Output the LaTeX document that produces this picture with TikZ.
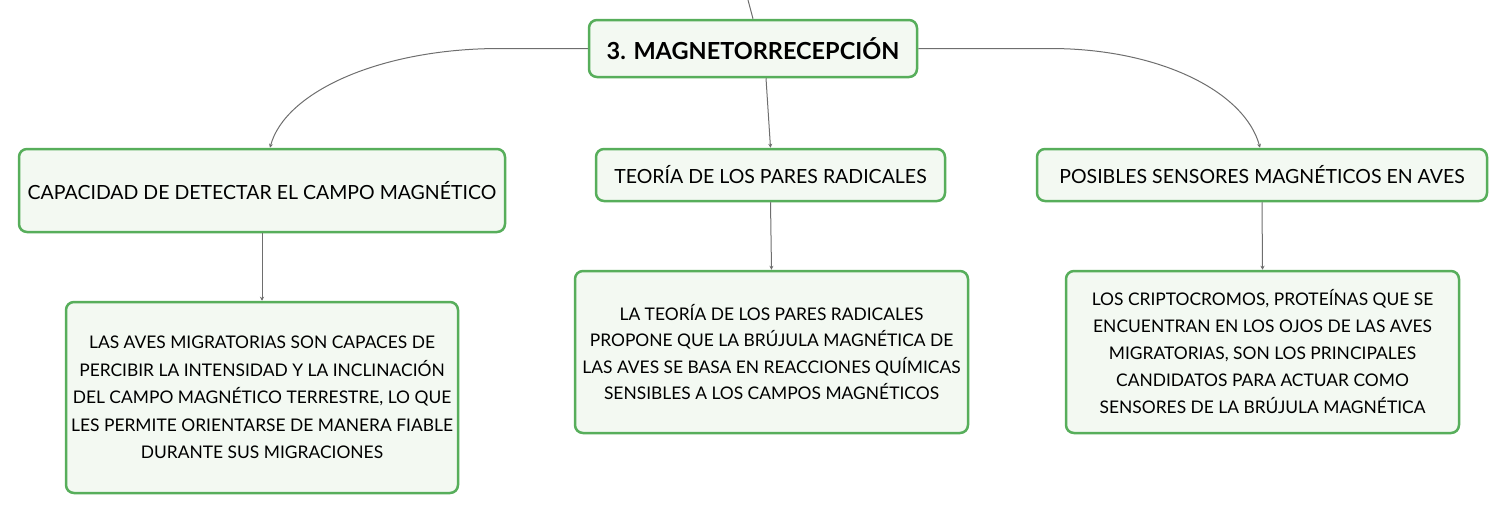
\documentclass[tikz,border=0pt]{standalone}
\usepackage{fontspec}
\setmainfont{Lato}
\usetikzlibrary{arrows.meta}
\definecolor{boxgreen}{HTML}{57AE5B}
\definecolor{boxfill}{HTML}{F3F9F2}
\definecolor{linegray}{HTML}{6E6E6E}
\tikzset{
  box/.style={draw=boxgreen, fill=boxfill, line width=2.5pt, rounded corners=8pt,
    inner sep=0pt, align=center, text=black},
  topbox/.style={box, font=\fontsize{23.5}{26}\selectfont\bfseries},
  midbox/.style={box, font=\fontsize{19.5}{23}\selectfont},
  txtbox/.style={box},
  conn/.style={draw=linegray, line width=1pt, -{Stealth[length=4pt,width=4pt]}},
}
\begin{document}
\begin{tikzpicture}[x=1pt,y=-1pt]
\useasboundingbox (0,0) rectangle (1507,514);
\node[topbox, minimum width=328pt, minimum height=57pt] (root) at (753,48.5) {3. MAGNETORRECEPCIÓN};
\node[midbox, minimum width=486pt, minimum height=83pt] (a) at (262,190.5) {CAPACIDAD DE DETECTAR EL CAMPO MAGNÉTICO};
\node[midbox, minimum width=349pt, minimum height=52pt] (b) at (770.5,175) {TEORÍA DE LOS PARES RADICALES};
\node[midbox, minimum width=450pt, minimum height=52pt] (c) at (1262,175) {POSIBLES SENSORES MAGNÉTICOS EN AVES};
\node[txtbox, minimum width=392pt, minimum height=191pt, font=\fontsize{17.4}{27.5}\selectfont] (d) at (262,397.5)
 {LAS AVES MIGRATORIAS SON CAPACES DE\\PERCIBIR LA INTENSIDAD Y LA INCLINACIÓN\\DEL CAMPO MAGNÉTICO TERRESTRE, LO QUE\\LES PERMITE ORIENTARSE DE MANERA FIABLE\\DURANTE SUS MIGRACIONES};
\node[txtbox, minimum width=393pt, minimum height=162pt, font=\fontsize{17.4}{26.5}\selectfont] (e) at (771.5,352)
 {LA TEORÍA DE LOS PARES RADICALES\\PROPONE QUE LA BRÚJULA MAGNÉTICA DE\\LAS AVES SE BASA EN REACCIONES QUÍMICAS\\SENSIBLES A LOS CAMPOS MAGNÉTICOS};
\node[txtbox, minimum width=393pt, minimum height=162pt, font=\fontsize{17.4}{27}\selectfont] (f) at (1262.5,352)
 {LOS CRIPTOCROMOS, PROTEÍNAS QUE SE\\ENCUENTRAN EN LOS OJOS DE LAS AVES\\MIGRATORIAS, SON LOS PRINCIPALES\\CANDIDATOS PARA ACTUAR COMO\\SENSORES DE LA BRÚJULA MAGNÉTICA};
\coordinate (in) at (748,0);
\coordinate (lbend) at (500,48.5);
\coordinate (rbend) at (1050,48.5);
\draw[draw=linegray, line width=1pt] (in) -- (root.north);
\draw[conn] (root.west) -- (lbend) .. controls (380,48.5) and (285,92) .. ([xshift=8pt]a.north);
\draw[conn] ([xshift=13pt]root.south) -- (b.north);
\draw[conn] (root.east) -- (rbend) .. controls (1160,48.5) and (1245,92) .. ([xshift=-2pt]c.north);
\draw[conn] (a.south) -- (d.north);
\draw[conn] (b.south) -- (e.north);
\draw[conn] (c.south) -- (f.north);
\end{tikzpicture}
\end{document}
